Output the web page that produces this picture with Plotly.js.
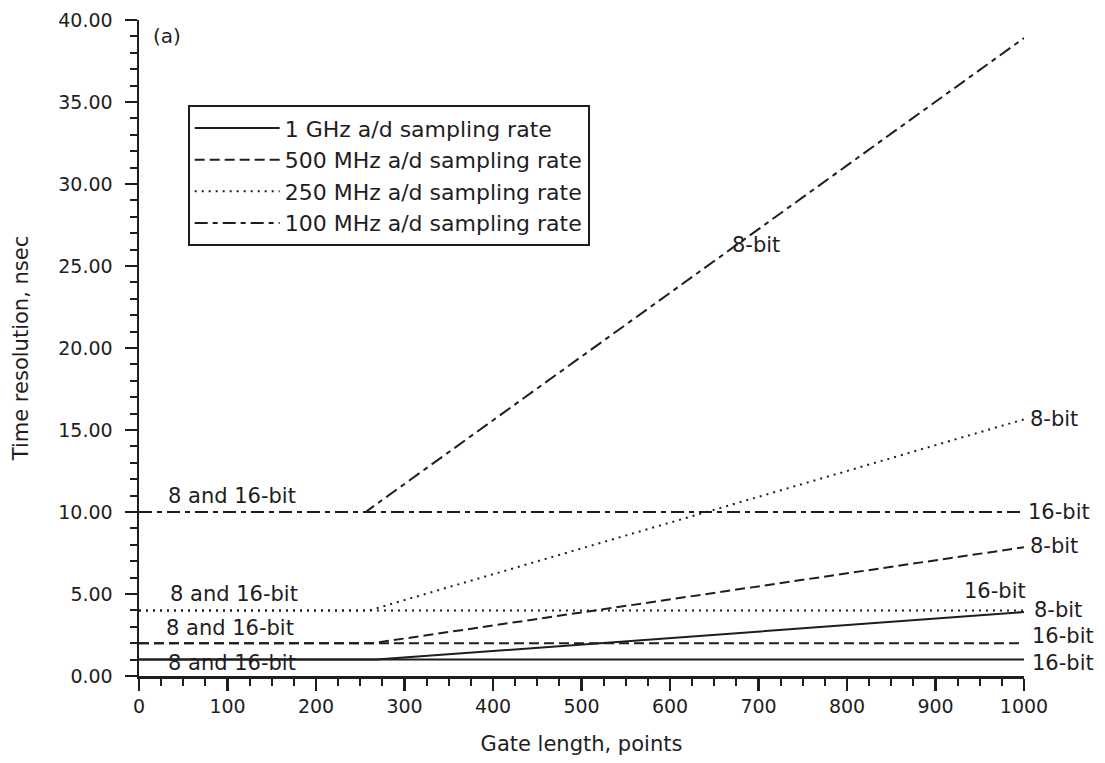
<!DOCTYPE html>
<html><head><meta charset="utf-8">
<script src="https://cdn.plot.ly/plotly-3.0.1.min.js"></script>
<style>html,body{margin:0;padding:0;background:#fff}</style>
</head><body><div id="chart" style="width:1105px;height:763px"></div>
<script>
// Series: [x, y] for 8-bit curve (flat then rising), and 16-bit flat line
const seriesNames = ["1 GHz a/d sampling rate","500 MHz a/d sampling rate","250 MHz a/d sampling rate","100 MHz a/d sampling rate"];
const x8_1G = [0, 268, 1000];   const y8_1G = [1.0, 1.0, 3.9];
const x8_500 = [0, 264, 1000];  const y8_500 = [2.0, 2.0, 7.85];
const x8_250 = [0, 260, 1000];  const y8_250 = [4.0, 4.0, 15.65];
const x8_100 = [0, 256, 1000];  const y8_100 = [10.0, 10.0, 38.9];
const x16 = [0, 1000];
const y16_1G = [1.0, 1.0];
const y16_500 = [2.0, 2.0];
const y16_250 = [4.0, 4.0];
const y16_100 = [10.0, 10.0];
const dashes = ["solid", "10px,5px", "2px,5px", "13px,5px,5px,5px"];

const col = "#1e1e1e";
const F = "DejaVu Sans, sans-serif";
const x8 = [x8_1G, x8_500, x8_250, x8_100];
const y8 = [y8_1G, y8_500, y8_250, y8_100];
const y16 = [y16_1G, y16_500, y16_250, y16_100];
const traces = [];
for (let i = 0; i < 4; i++) {
  traces.push({x: x8[i], y: y8[i], mode: "lines", name: seriesNames[i],
    line: {color: col, width: 2, dash: dashes[i]}, showlegend: true, hoverinfo: "skip"});
  traces.push({x: x16, y: y16[i], mode: "lines", name: seriesNames[i] + " 16-bit",
    line: {color: col, width: 2, dash: dashes[i]}, showlegend: false, hoverinfo: "skip"});
}

const AS = 21;
function ann(text, x, y, xanchor, yanchor, extra) {
  return Object.assign({text: text, x: x, y: y, xref: "x", yref: "y", xanchor: xanchor, yanchor: yanchor,
    showarrow: false, font: {family: F, size: AS, color: col}}, extra || {});
}
const annotations = [
  {text: "(a)", x: 0.014, y: 0.976, xref: "paper", yref: "paper", xanchor: "left", yanchor: "middle",
   showarrow: false, font: {family: F, size: 20, color: col}},
  ann("8-bit", 697, 26.3, "center", "middle"),
  ann("8 and 16-bit", 105, 11.0, "center", "middle"),
  ann("8 and 16-bit", 107, 5.0, "center", "middle"),
  ann("8 and 16-bit", 103, 2.9, "center", "middle"),
  ann("8 and 16-bit", 105, 0.8, "center", "middle"),
  ann("16-bit", 1000, 10.0, "left", "middle", {xshift: 2}),
  ann("8-bit", 1000, 15.7, "left", "middle", {xshift: 4}),
  ann("8-bit", 1000, 7.9, "left", "middle", {xshift: 4}),
  ann("16-bit", 1000, 5.2, "right", "middle", {xshift: 4}),
  ann("8-bit", 1000, 4.0, "left", "middle", {xshift: 8}),
  ann("16-bit", 1000, 2.45, "left", "middle", {xshift: 6}),
  ann("16-bit", 1000, 0.8, "left", "middle", {xshift: 6})
];

const layout = {
  width: 1105, height: 763,
  margin: {l: 139, r: 81, t: 20, b: 87},
  paper_bgcolor: "#fff", plot_bgcolor: "#fff",
  font: {family: F, size: 20, color: col},
  showlegend: true,
  legend: {x: 0.055, y: 0.87, xanchor: "left", yanchor: "top", bgcolor: "#fff",
    bordercolor: col, borderwidth: 2, font: {family: F, size: 22, color: col},
    itemwidth: 85, tracegroupgap: 0},
  xaxis: {range: [0, 1000], showgrid: false, zeroline: false, showline: true, linecolor: col, linewidth: 2.5,
    ticks: "outside", tickcolor: col, tickwidth: 2.5, ticklen: 12, dtick: 100, tick0: 0,
    tickfont: {family: F, size: 19, color: col},
    minor: {ticks: "outside", dtick: 25, ticklen: 7, tickwidth: 2, tickcolor: col, showgrid: false},
    title: {text: "Gate length, points", font: {family: F, size: 21, color: col}, standoff: 20}},
  yaxis: {range: [0, 40], showgrid: false, zeroline: false, showline: true, linecolor: col, linewidth: 2.5,
    ticks: "outside", tickcolor: col, tickwidth: 2.5, ticklen: 12, dtick: 5, tick0: 0, tickformat: ".2f",
    ticklabelstandoff: 8,
    tickfont: {family: F, size: 19, color: col},
    minor: {ticks: "outside", dtick: 1, ticklen: 7, tickwidth: 2, tickcolor: col, showgrid: false},
    title: {text: "Time resolution, nsec", font: {family: F, size: 21, color: col}, standoff: 24}},
  annotations: annotations
};
Plotly.newPlot("chart", traces, layout, {displayModeBar: false, staticPlot: true});
</script></body></html>
